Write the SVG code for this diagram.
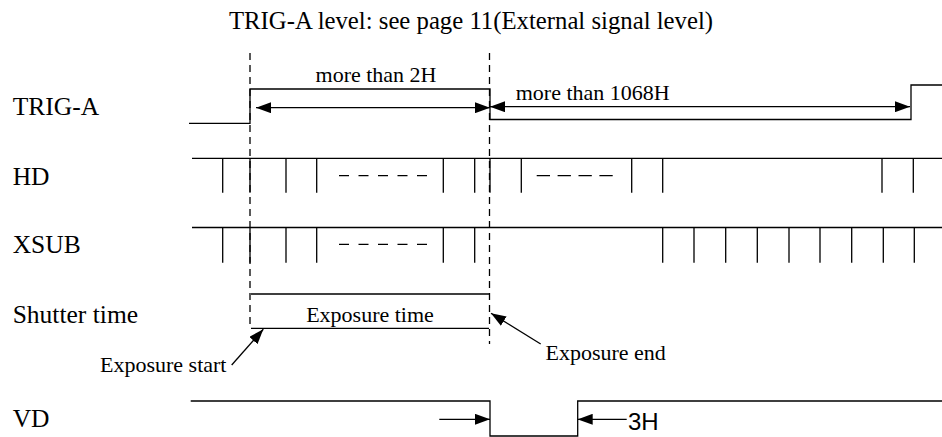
<svg xmlns="http://www.w3.org/2000/svg" width="942" height="437" viewBox="0 0 942 437">
<style>
.sig{fill:none;stroke:#000;stroke-width:1.3}
.dv{fill:none;stroke:#000;stroke-width:1.3;stroke-dasharray:7 5}
.lbl{font-family:"Liberation Serif","Times New Roman",serif;font-size:25.5px;fill:#000}
.sm{font-family:"Liberation Serif","Times New Roman",serif;font-size:22px;fill:#000}
.arr{fill:none;stroke:#000;stroke-width:1.3;marker-end:url(#ah)}
.arr2{fill:none;stroke:#000;stroke-width:1.3;marker-start:url(#ah);marker-end:url(#ah)}
</style>
<defs>
<marker id="ah" markerUnits="userSpaceOnUse" markerWidth="15" markerHeight="11" refX="15" refY="5.5" orient="auto-start-reverse">
<path d="M0,0 L15,5.5 L0,11 z" fill="#000"/>
</marker>
</defs>
<rect width="942" height="437" fill="#fff"/>
<text x="229" y="29" font-family="'Liberation Serif','Times New Roman',serif" font-size="26" textLength="484" lengthAdjust="spacingAndGlyphs" fill="#000">TRIG-A level: see page 11(External signal level)</text>
<g id="guides">
<path class="dv" d="M250,53 V328"/>
<path class="dv" d="M489.5,53 V344"/>
</g>
<g id="trig-a">
<text class="lbl" x="12.7" y="115">TRIG-A</text>
<path class="sig" d="M189,123.3 H250 V89 H490 V119.5 H911 V85 H942"/>
<text class="sm" x="376" y="82" text-anchor="middle">more than 2H</text>
<text class="sm" x="515.7" y="100">more than 1068H</text>
</g>
<g id="hd">
<text class="lbl" x="12.7" y="185">HD</text>
<path class="sig" d="M192,158.3 H942 M222.7,158.3 V192.7 M250,158.3 V192.7 M286,158.3 V192.7 M316.7,158.3 V192.7 M443.3,158.3 V192.7 M474.7,158.3 V192.7 M490,158.3 V192.7 M521.3,158.3 V192.7 M631.7,158.3 V192.7 M662.7,158.3 V192.7 M882,158.3 V192.7 M913.3,158.3 V192.7"/>
<path class="sig" stroke-dasharray="10 9.5" d="M339,175.7 H427.3"/>
<path class="sig" stroke-dasharray="13.3 7.6" d="M536.7,175.7 H612.7"/>
</g>
<g id="xsub">
<text class="lbl" x="12.7" y="253.3">XSUB</text>
<path class="sig" d="M192,227.5 H942 M222.7,227.5 V262.7 M250,227.5 V262.7 M286,227.5 V262.7 M316.7,227.5 V262.7 M443.3,227.5 V262.7 M474.7,227.5 V262.7 M662.7,227.5 V262.7 M694,227.5 V262.7 M725.7,227.5 V262.7 M757.3,227.5 V262.7 M789,227.5 V262.7 M820,227.5 V262.7 M851.7,227.5 V262.7 M883.3,227.5 V262.7 M914.3,227.5 V262.7"/>
<path class="sig" stroke-dasharray="10 9.5" d="M339,244.3 H427.3"/>
</g>
<g id="shutter">
<text class="lbl" x="12.7" y="323.3">Shutter time</text>
<path class="sig" d="M251,294 H489 M251,328.3 H489"/>
<text class="sm" x="370" y="322" text-anchor="middle">Exposure time</text>
<text class="sm" x="100" y="372">Exposure start</text>
<text class="sm" x="545.5" y="360">Exposure end</text>
</g>
<g id="vd">
<text class="lbl" x="12.7" y="426.7">VD</text>
<path class="sig" d="M190.7,401 H490 V436 H577.7 V401 H942"/>
<text x="628" y="430" font-family="'Liberation Sans',Arial,sans-serif" font-size="24" fill="#000">3H</text>
</g>
<g id="connectors">
<line class="arr2" x1="256" y1="107.7" x2="490" y2="107.7"/>
<line class="arr2" x1="490" y1="106.7" x2="910" y2="106.7"/>
<line class="arr" x1="231.7" y1="365" x2="263.3" y2="329.3"/>
<line class="arr" x1="540.7" y1="344" x2="491" y2="313.3"/>
<line class="arr" x1="439.3" y1="419.3" x2="490" y2="419.3"/>
<line class="arr" x1="626.7" y1="419.3" x2="577.7" y2="419.3"/>
</g>
</svg>
